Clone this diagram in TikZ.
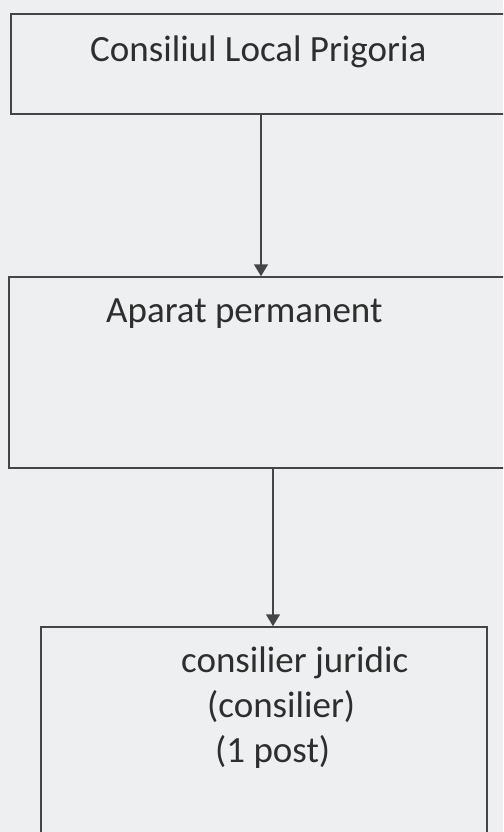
\documentclass[tikz,border=0pt]{standalone}
\usepackage{fontspec}
\setmainfont{Carlito}
\usetikzlibrary{arrows.meta}
\definecolor{paper}{HTML}{EEEFF1}
\definecolor{ink}{HTML}{454545}
\definecolor{txtink}{HTML}{2E2E2E}
\tikzstyle{box} = [rectangle, draw=ink, line width=1.5pt, inner sep=0pt]
\tikzstyle{txt} = [text=txtink, font=\fontsize{37}{45}\selectfont, inner sep=0pt, anchor=base west]
\tikzstyle{arrow} = [line width=1.5pt, draw=ink, -{Triangle[width=14pt,length=12pt]}]

\begin{document}
\begin{tikzpicture}[x=1pt,y=1pt]
        \fill [paper] (0,0) rectangle (503,-832);
        \useasboundingbox (0,0) rectangle (503,-832);
        \clip (0,0) rectangle (503,-832);

        \node (council) [box, minimum width=504pt, minimum height=100pt] at (263,-64) {};
        \node (staff) [box, minimum width=506pt, minimum height=191pt] at (262,-372.5) {};
        \node (legal) [box, minimum width=446pt, minimum height=218pt] at (264,-736) {};

        \node (council_txt) [txt] at (90,-62) {Consiliul Local Prigoria};
        \node (staff_txt) [txt] at (106,-322) {Aparat permanent};
        \node (legal_role) [txt] at (181,-672) {consilier juridic};
        \node (legal_rank) [txt] at (207,-717) {(consilier)};
        \node (legal_posts) [txt] at (215,-762) {(1 post)};

        \draw [arrow] ([xshift=-2pt]council.south) -- ([xshift=-2pt]council.south |- staff.north);
        \draw [arrow] ([xshift=11pt]staff.south) -- ([xshift=11pt]staff.south |- legal.north);
\end{tikzpicture}
\end{document}
